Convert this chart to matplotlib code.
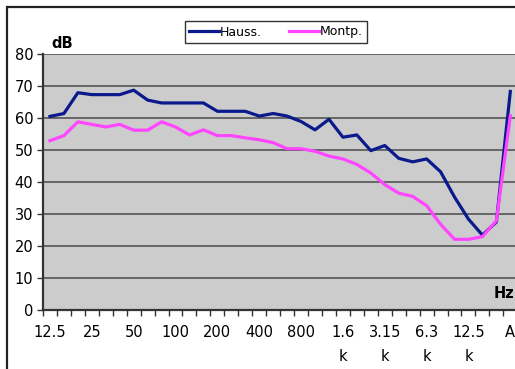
import matplotlib
matplotlib.use("Agg")
import matplotlib.pyplot as plt
from matplotlib.patches import Rectangle

# third-octave bands 12.5 Hz .. 20 kHz, then A-weighted total
bands = ["12.5", "16", "20", "25", "31.5", "40", "50", "63", "80", "100",
         "125", "160", "200", "250", "315", "400", "500", "630", "800", "1k",
         "1.25k", "1.6k", "2k", "2.5k", "3.15k", "4k", "5k", "6.3k", "8k",
         "10k", "12.5k", "16k", "20k", "A"]

hauss = [60.5, 61.4, 67.9, 67.3, 67.3, 67.3, 68.7, 65.6, 64.7, 64.7,
         64.7, 64.7, 62.1, 62.1, 62.1, 60.6, 61.4, 60.6, 58.9, 56.3,
         59.6, 54.0, 54.7, 49.8, 51.4, 47.4, 46.3, 47.2, 43.2, 35.3,
         28.4, 23.4, 27.5, 68.3]

montp = [52.9, 54.5, 58.8, 58.0, 57.2, 58.0, 56.2, 56.2, 58.8, 57.2,
         54.7, 56.3, 54.5, 54.5, 53.8, 53.2, 52.3, 50.4, 50.4, 49.6,
         48.1, 47.2, 45.5, 42.8, 39.2, 36.5, 35.5, 32.6, 26.8, 22.1,
         22.1, 22.9, 27.9, 60.7]

label_idx = [0, 3, 6, 9, 12, 15, 18, 21, 24, 27, 30, 33]
label_txt = ["12.5", "25", "50", "100", "200", "400", "800",
             "1.6\nk", "3.15\nk", "6.3\nk", "12.5\nk", "A"]

W, H = 515, 369
fig = plt.figure(figsize=(W / 100, H / 100), dpi=100)

# chart border (cut off on the right and bottom in the original)
fig.patches.append(Rectangle((7 / W, -0.1), 1.2, 1 - 7 / H + 0.1,
                             transform=fig.transFigure, fill=False,
                             edgecolor="#222222", linewidth=1.6))

left, right, top, bottom = 43, 43 + 34 * 13.95, 54, 310
ax = fig.add_axes([left / W, 1 - bottom / H, (right - left) / W, (bottom - top) / H])
ax.set_facecolor("#cccccc")

x = list(range(len(bands)))
ax.plot(x, hauss, color="#0a1a8c", lw=2.3, label="Hauss.", solid_joinstyle="round")
ax.plot(x, montp, color="#ff45ff", lw=2.3, label="Montp.", solid_joinstyle="round")

ax.set_xlim(-0.5, len(bands) - 0.5)
ax.set_ylim(0, 80)
ax.set_yticks(range(0, 81, 10))
ax.grid(axis="y", color="#4a4a4a", lw=1.1)
ax.set_axisbelow(True)

ax.set_xticks(label_idx)
ax.set_xticklabels(label_txt, fontsize=10.5, linespacing=1.7, va="top")
ax.set_xticks([i - 0.5 for i in range(len(bands) + 1)], minor=True)
ax.tick_params(axis="x", which="major", length=0, pad=11)
ax.tick_params(axis="x", which="minor", length=4, width=1, direction="out", color="#333333")
ax.tick_params(axis="y", labelsize=10.5, length=4, width=1, color="#333333", pad=3)

for s in ["top", "right"]:
    ax.spines[s].set_visible(False)
ax.spines["left"].set_color("#333333")
ax.spines["left"].set_linewidth(1.6)
ax.spines["bottom"].set_color("#333333")
ax.spines["bottom"].set_linewidth(1.6)

fig.text(51 / W, 1 - 44 / H, "dB", fontsize=10.5, fontweight="bold", va="center", ha="left")
fig.text(494 / W, 1 - 294 / H, "Hz", fontsize=10.5, fontweight="bold", va="center", ha="left")

leg = fig.legend(loc="center", bbox_to_anchor=(276 / W, 1 - 32 / H), ncol=2,
                 fontsize=9, frameon=True, fancybox=False, edgecolor="black",
                 handlelength=2.4, handletextpad=0.05, columnspacing=2.2,
                 borderpad=0.35)
leg.get_frame().set_linewidth(1.0)

fig.savefig("out.png", dpi=100)
